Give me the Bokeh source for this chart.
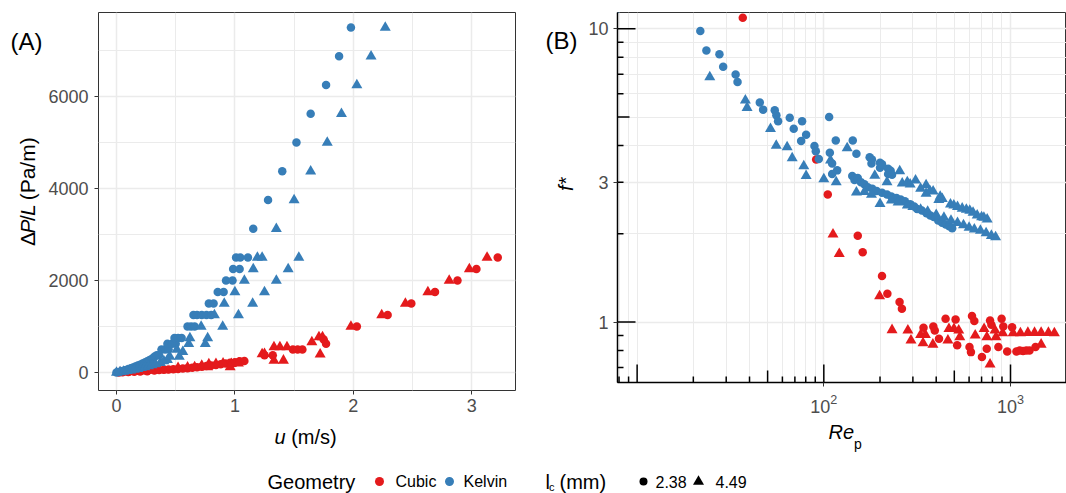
from math import pi, log10, floor
from bokeh.plotting import figure
from bokeh.models import Range1d, FixedTicker, BasicTickFormatter
from bokeh.layouts import column, row
from bokeh.embed import file_html
from bokeh.resources import INLINE
from bokeh.core.properties import value

FONT = "Liberation Sans"
RED = "#E41A1C"
BLUE = "#377EB8"
GRID = "#EBEBEB"
TICKTXT = "#4D4D4D"

# ---------------- Panel A data: u (m/s) vs dP/L (Pa/m) ----------------
cubic_238_u = [0.02, 0.05, 0.10, 0.15, 0.20, 0.26, 0.32, 0.36, 0.40, 0.44, 0.48, 0.52, 0.56, 0.60,
               0.64, 0.68, 0.72, 0.76, 0.80, 0.84, 0.88, 0.92, 0.96, 1.00, 1.04, 1.08, 1.25, 1.32,
               1.49, 1.53, 1.57, 1.75, 1.77, 2.03, 2.29, 2.49, 2.69, 2.88, 3.04, 3.22]
cubic_238_dp = [0, 5, 10, 15, 20, 30, 45, 55, 60, 65, 70, 75, 85, 95,
                105, 115, 125, 140, 150, 165, 180, 195, 210, 225, 245, 250, 375, 375,
                500, 500, 500, 720, 625, 1000, 1250, 1500, 1750, 2000, 2250, 2500]

cubic_449_u = [0.03, 0.08, 0.14, 0.20, 0.25, 0.30, 0.40, 0.52, 0.60, 0.66, 0.72, 0.77, 0.78, 0.84,
               0.90, 0.97, 0.96, 1.03, 1.23, 1.25, 1.33, 1.33, 1.38, 1.41, 1.44, 1.65, 1.71, 1.74,
               1.72, 1.98, 2.24, 2.44, 2.63, 2.81, 2.98, 3.13]
cubic_449_dp = [0, 5, 15, 25, 35, 40, 55, 100, 110, 120, 150, 116, 185, 190,
                200, 189, 116, 200, 400, 407, 260, 552, 552, 262, 552, 660, 770, 770,
                393, 1000, 1250, 1500, 1750, 2000, 2250, 2500]

kelvin_238_u = [0.00, 0.02, 0.04, 0.06, 0.08, 0.10, 0.12, 0.14, 0.16, 0.18, 0.20, 0.22, 0.24, 0.26,
                0.28, 0.30, 0.32, 0.34, 0.36, 0.38, 0.41, 0.44, 0.43, 0.47, 0.50, 0.49, 0.52, 0.55,
                0.60, 0.63, 0.66, 0.65, 0.68, 0.72, 0.76, 0.80, 0.78, 0.82, 0.855, 0.905, 0.925, 0.98,
                0.985, 1.04, 1.01, 1.045, 1.11, 1.155, 1.28, 1.40, 1.52, 1.64, 1.77, 1.88, 1.98]
kelvin_238_dp = [0, 10, 25, 40, 55, 70, 90, 110, 130, 150, 170, 195, 220, 245,
                 270, 300, 340, 375, 375, 500, 500, 500, 625, 625, 625, 750, 750, 750,
                 1000, 1000, 1000, 1250, 1250, 1250, 1250, 1250, 1500, 1500, 1750, 1750, 2000, 2000,
                 2250, 2250, 2500, 2500, 2500, 3125, 3750, 4375, 5000, 5625, 6250, 6875, 7500]

kelvin_449_u = [0.00, 0.03, 0.06, 0.09, 0.12, 0.15, 0.18, 0.21, 0.24, 0.27, 0.30, 0.33, 0.37, 0.40,
                0.43, 0.45, 0.53, 0.51, 0.56, 0.61, 0.75, 0.62, 0.77, 0.715, 0.897, 0.827, 1.03, 0.91,
                1.15, 1.00, 1.25, 1.08, 1.35, 1.155, 1.45, 1.19, 1.23, 1.54, 1.35, 1.50, 1.64, 1.78,
                1.90, 2.03, 2.15, 2.27]
kelvin_449_dp = [0, 10, 20, 35, 50, 65, 80, 100, 120, 140, 160, 185, 210, 250,
                 275, 345, 345, 500, 450, 625, 625, 750, 750, 1000, 1000, 1250, 1250, 1500,
                 1500, 1750, 1750, 2000, 2000, 2250, 2250, 2500, 2500, 2500, 3125, 3750, 4375, 5000,
                 5625, 6250, 6875, 7500]

# ---------------- Panel B data: Re_p vs f* ----------------
b_kelvin_238_re = [7.7, 21.8, 23.5, 27.6, 28.9, 33.7, 34.5, 45.4, 47.3, 54.6, 55.7, 56.9, 65.7, 69.0,
                   76.5, 80.4, 75.6, 89.1, 90.6, 94.0, 106.8, 107.7, 115.9, 110.8, 117.9, 110.8, 142.9,
                   149.5, 142, 146, 152, 158, 176, 180, 200, 200, 221, 221, 181, 205, 228, 232, 165,
                   172, 182, 192, 205, 218, 230, 245, 258, 272, 290, 305, 316, 335, 355, 372, 388,
                   410, 430, 450, 470, 487]
b_kelvin_238_f = [11.6, 9.82, 8.43, 8.18, 7.42, 6.98, 6.58, 5.61, 5.30, 5.27, 5.07, 4.84, 4.97, 4.56,
                  4.84, 4.35, 4.14, 3.98, 3.82, 3.60, 5.00, 3.78, 4.16, 3.47, 3.29, 3.20, 4.16,
                  3.75, 3.15, 3.05, 3.10, 3.00, 3.65, 3.47, 3.49, 3.36, 3.33, 3.20, 3.58, 3.45, 3.28, 3.18, 2.95,
                  2.88, 2.85, 2.80, 2.76, 2.72, 2.68, 2.65, 2.62, 2.58, 2.52, 2.48, 2.43, 2.40, 2.35, 2.31, 2.28,
                  2.22, 2.18, 2.15, 2.12, 2.09]

b_kelvin_449_re = [24.5, 38.0, 38.8, 51.8, 55.6, 63.6, 67.7, 78.1, 80.4, 100, 108.6, 116.5, 133.4,
                   149.5, 187.5, 218, 200, 255, 263, 280, 310, 353, 353, 385, 413, 431, 477, 497, 551,
                   605, 663, 700, 750, 165, 180, 230, 250, 280, 300, 330, 360, 400, 440, 480, 520,
                   560, 600, 640, 690, 740, 790, 832, 290, 330, 370, 420, 520, 580, 630, 720]
b_kelvin_449_f = [6.84, 5.70, 5.38, 4.56, 4.00, 3.95, 3.62, 3.40, 3.15, 3.07, 3.56, 3.00, 3.92,
                  2.77, 3.16, 3.00, 2.53, 3.27, 2.97, 3.00, 3.04, 2.93, 2.74, 2.79, 2.61, 2.63, 2.52, 2.50, 2.44,
                  2.40, 2.31, 2.28, 2.24, 2.78, 2.72, 2.60, 2.56, 2.50, 2.47, 2.42, 2.38, 2.32, 2.27, 2.22, 2.18,
                  2.14, 2.10, 2.07, 2.05, 2.01, 1.97, 1.95, 2.95, 2.85, 2.80, 2.68, 2.47, 2.42, 2.36, 2.27]

b_cubic_238_re = [36.8, 91, 105, 152, 161.5, 205, 219, 254.5, 262, 342, 386, 393, 414, 449, 508, 518,
                  622, 640, 603, 614, 703, 746, 777, 790, 861, 896, 915, 960, 1020, 1076, 1120, 1167,
                  1215, 1264, 1361]
b_cubic_238_f = [10.9, 3.58, 2.72, 1.97, 1.73, 1.435, 1.249, 1.17, 1.11, 0.957, 0.966, 0.937, 0.877, 1.026,
                 1.021, 0.833, 1.048, 1.008, 0.822, 0.79, 0.760, 0.811, 1.013, 0.98, 0.822, 1.026, 0.966,
                 0.794, 0.96, 0.794, 0.80, 0.797, 0.80, 0.80, 0.822]

b_cubic_449_re = [112, 121, 199, 232, 282, 293, 330, 350, 340, 384, 468, 498, 462, 528, 535, 647, 777,
                  722, 747, 826, 836, 908, 1459, 1033, 1130, 1239, 1345, 1459, 1596, 1718]
b_cubic_449_f = [1.99, 1.71, 1.226, 0.94, 0.937, 0.866, 0.905, 0.905, 0.848, 0.839, 0.949, 0.949, 0.866,
                 0.937, 0.889, 0.901, 0.718, 0.949, 0.889, 0.937, 0.889, 0.917, 0.839, 0.917, 0.917, 0.92,
                 0.92, 0.92, 0.92, 0.917]

# axis tick values
a_xticks = [0, 1, 2, 3]
a_xminor = [0.5, 1.5, 2.5]
a_yticks = [0, 2000, 4000, 6000]
a_yminor = [1000, 3000, 5000, 7000]
b_xticks = [100, 1000]
b_xminor = [8, 9, 10, 20, 30, 40, 50, 60, 70, 80, 90, 200, 300, 400, 500, 600, 700, 800, 900]
b_yticks = [1, 3, 10]
b_yminor = [2, 4, 5, 6, 7, 8, 9]
# annotation log ticks
b_logticks_x = [8, 9, 10, 20, 30, 40, 50, 60, 70, 80, 90, 100, 200, 300, 400, 500, 600, 700, 800, 900, 1000]
b_logticks_y = [0.7, 0.8, 0.9, 1, 2, 3, 4, 5, 6, 7, 8, 9, 10]

# legend entries
geometry_labels = ["Cubic", "Kelvin"]
geometry_colors = [RED, BLUE]
lc_labels = ["2.38", "4.49"]
lc_markers = ["circle", "triangle"]


def tick_len(v):
    m = v / (10 ** floor(log10(v) + 1e-9))
    if abs(m - 1) < 1e-6:
        return 18
    if abs(m - 5) < 1e-6:
        return 12
    return 6


def style_axes(p):
    for ax in (p.xaxis, p.yaxis):
        ax.major_label_text_font = FONT
        ax.major_label_text_font_size = "18px"
        ax.major_label_text_color = TICKTXT
        ax.major_tick_line_color = "#333333"
        ax.major_tick_out = 4
        ax.major_tick_in = 0
        ax.minor_tick_line_color = None
        ax.major_label_standoff = 4
    p.xgrid.grid_line_color = GRID
    p.ygrid.grid_line_color = GRID
    p.xgrid.grid_line_width = 1.5
    p.ygrid.grid_line_width = 1.5
    p.xgrid.minor_grid_line_color = GRID
    p.ygrid.minor_grid_line_color = GRID
    p.xgrid.minor_grid_line_width = 1
    p.ygrid.minor_grid_line_width = 1


def blank(width, height, x0, x1, y0, y1):
    # strip figure whose data coordinates equal page pixels (y negated)
    f = figure(width=width, height=height, x_range=Range1d(x0, x1), y_range=Range1d(-y1, -y0),
               output_backend="svg", toolbar_location=None, min_border=0)
    f.axis.visible = False
    f.grid.visible = False
    f.outline_line_color = None
    return f


def txt(f, x, y, s, size, style="normal", angle=0.0, align="left"):
    f.text(x=[x], y=[-y], text=[s], text_font=value(FONT), text_font_size=f"{size}px",
           text_font_style=style, angle=angle, text_align=align, text_baseline="middle",
           text_color="black")


HA = 424      # height of panel A figure
HB = 418      # height of panel B figure
HT = 452      # bottom of the x-title strips

# ---------------- Panel A ----------------
pA = figure(width=488, height=HA, x_range=Range1d(-0.152, 3.37), y_range=Range1d(-391, 7826),
            output_backend="svg", toolbar_location=None,
            min_border_left=52, min_border_right=18, min_border_top=12, min_border_bottom=HA - 390)
pA.xaxis.ticker = FixedTicker(ticks=a_xticks, minor_ticks=a_xminor)
pA.yaxis.ticker = FixedTicker(ticks=a_yticks, minor_ticks=a_yminor)
style_axes(pA)
pA.yaxis.major_label_standoff = 6
pA.xaxis.axis_line_color = None
pA.yaxis.axis_line_color = None
pA.outline_line_color = "#333333"
pA.outline_line_width = 1

pA.scatter(cubic_238_u, cubic_238_dp, marker="circle", size=8.5, color=RED, line_color=None)
pA.scatter(cubic_449_u, cubic_449_dp, marker="triangle", size=11, color=RED, line_color=None)
pA.scatter(kelvin_238_u, kelvin_238_dp, marker="circle", size=8.5, color=BLUE, line_color=None)
pA.scatter(kelvin_449_u, kelvin_449_dp, marker="triangle", size=11, color=BLUE, line_color=None)

# strip left of panel A: tag and y title
sA = blank(45, HA, 0, 45, 0, HA)
txt(sA, 10, 32, "(A)", 24)
ys = 262.0
for s, st, w in [("\u0394", "normal", 14.0), ("P", "italic", 14.0), ("/", "normal", 5.8),
                 ("L", "italic", 11.7 + 5.8), ("(Pa/m)", "normal", 63.0)]:
    txt(sA, 27, ys, s, 21, style=st, angle=pi / 2)
    ys -= w

# strip under panel A: x title
tA = blank(533, HT - HA, 0, 533, HA, HT)
txt(tA, 274, 436, "u", 20, style="italic")
txt(tA, 290.7, 436, "(m/s)", 20)

# ---------------- Panel B ----------------
pB = figure(width=484, height=HB, x_axis_type="log", y_axis_type="log",
            x_range=Range1d(7.85, 1995), y_range=Range1d(0.6224, 11.36),
            output_backend="svg", toolbar_location=None,
            min_border_left=35, min_border_right=0, min_border_top=12, min_border_bottom=HB - 382)
pB.xaxis.ticker = FixedTicker(ticks=b_xticks, minor_ticks=b_xminor)
pB.yaxis.ticker = FixedTicker(ticks=b_yticks, minor_ticks=b_yminor)
style_axes(pB)
pB.yaxis.major_label_standoff = 5
pB.xaxis.major_label_standoff = 7
pB.yaxis.formatter = BasicTickFormatter()
pB.yaxis.major_label_overrides = {1: "1", 3: "3", 10: "10"}
pB.xaxis.axis_line_color = "black"
pB.yaxis.axis_line_color = "black"
pB.xaxis.axis_line_width = 1.5
pB.yaxis.axis_line_width = 1.5
pB.outline_line_color = "#333333"
pB.outline_line_width = 1

pB.scatter(b_cubic_238_re, b_cubic_238_f, marker="circle", size=8.5, color=RED, line_color=None)
pB.scatter(b_cubic_449_re, b_cubic_449_f, marker="triangle", size=11, color=RED, line_color=None)
pB.scatter(b_kelvin_238_re, b_kelvin_238_f, marker="circle", size=8.5, color=BLUE, line_color=None)
pB.scatter(b_kelvin_449_re, b_kelvin_449_f, marker="triangle", size=11, color=BLUE, line_color=None)

xr0 = pB.x_range.start
yr0 = pB.y_range.start
pB.ray(x=b_logticks_x, y=[yr0] * len(b_logticks_x), length=[tick_len(v) for v in b_logticks_x],
       angle=pi / 2, length_units="screen", line_color="black", line_width=1.5)
pB.ray(x=[xr0] * len(b_logticks_y), y=b_logticks_y, length=[tick_len(v) for v in b_logticks_y],
       angle=0, length_units="screen", line_color="black", line_width=1.5)

# strip left of panel B: tag and y title
sB = blank(49, HB, 533, 582, 0, HB)
txt(sB, 545, 32, "(B)", 24)
txt(sB, 565, 194, "f*", 20, style="italic", angle=pi / 2, align="center")

# strip under panel B: x title
tB = blank(533, HT - HB, 533, 1066, HB, HT)
txt(tB, 828, 431, "Re", 20, style="italic")
txt(tB, 853.5, 443, "p", 14)

# ---------------- legend strip ----------------
sL = blank(1066, 493 - HT, 0, 1066, HT, 493)
leg_y = 481
txt(sL, 267, leg_y, "Geometry", 20)
geo_x = [379, 449]
geo_tx = [395, 463]
sL.scatter(x=geo_x, y=[-leg_y] * 2, marker="circle", size=9, color=geometry_colors, line_color=None)
for xx, s in zip(geo_tx, geometry_labels):
    txt(sL, xx, leg_y, s, 16)
txt(sL, 545, leg_y, "l", 20)
txt(sL, 548.5, leg_y + 5, "c", 11)
txt(sL, 559, leg_y, "(mm)", 20)
lc_x = [643, 698]
lc_tx = [655, 715]
lc_size = [8, 11]
for xx, tx, m, sz, s in zip(lc_x, lc_tx, lc_markers, lc_size, lc_labels):
    sL.scatter(x=[xx], y=[-leg_y], marker=m, size=sz, color="black", line_color=None)
    txt(sL, tx, leg_y, s, 16)

left = column(row(sA, pA, spacing=0), tA, spacing=0)
right = column(row(sB, pB, spacing=0), tB, spacing=0)
layout = column(row(left, right, spacing=0), sL, spacing=0)
open("out.html", "w").write(file_html(layout, INLINE))
